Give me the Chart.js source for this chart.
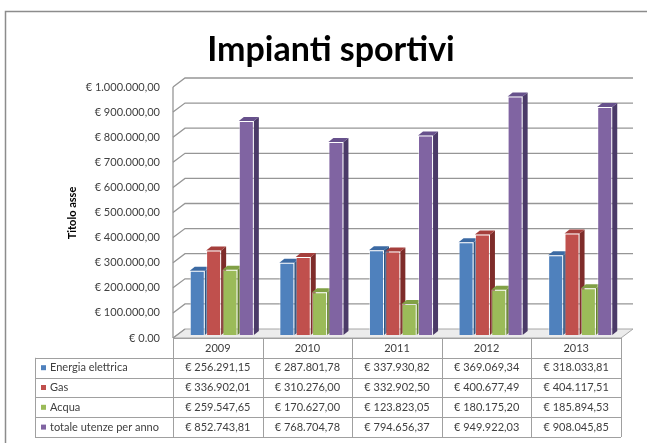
<!DOCTYPE html>
<html>
<head>
<meta charset="utf-8">
<script src="https://cdn.jsdelivr.net/npm/chart.js@4/dist/chart.umd.min.js"></script>
<style>
  body { margin: 0; background: #fff; }
</style>
</head>
<body>
<canvas id="myChart" width="647" height="443"></canvas>
<script>
// dati
var years = ["2009", "2010", "2011", "2012", "2013"];
var energia = [256291.15, 287801.78, 337930.82, 369069.34, 318033.81];
var gas = [336902.01, 310276.00, 332902.50, 400677.49, 404117.51];
var acqua = [259547.65, 170627.00, 123823.05, 180175.20, 185894.53];
var totale = [852743.81, 768704.78, 794656.37, 949922.03, 908045.85];
var seriesNames = ["Energia elettrica", "Gas", "Acqua", "totale utenze per anno"];
var tickValues = [0, 100000, 200000, 300000, 400000, 500000, 600000, 700000, 800000, 900000, 1000000];
var tickLabels = ["€ 0.00", "€ 100.000,00", "€ 200.000,00", "€ 300.000,00", "€ 400.000,00", "€ 500.000,00",
                  "€ 600.000,00", "€ 700.000,00", "€ 800.000,00", "€ 900.000,00", "€ 1.000.000,00"];

var fronts = ["#4F81BD", "#C0504D", "#9BBB59", "#8064A2"];
var sides = ["#2F5582", "#7E2C2A", "#66832F", "#4B3A68"];
var tops = ["#3C6AA3", "#A53F3C", "#81A046", "#67518C"];

function euro(n) {
  var parts = n.toFixed(2).split(".");
  var int = parts[0].replace(/\B(?=(\d{3})+(?!\d))/g, ".");
  return "€ " + int + "," + parts[1];
}

var FX = -4, FY = 3;   // piano frontale
var BX = 8, BY = -6;   // parete di fondo
var DX = 5, DY = -4;   // spessore barre

var deco = {
  id: "deco",
  beforeDatasetsDraw: function (chart) {
    var ctx = chart.ctx;
    var a = chart.chartArea;
    var y = chart.scales.y;
    ctx.save();
    // pavimento
    var y0 = y.getPixelForValue(0);
    ctx.beginPath();
    ctx.moveTo(a.left + FX, y0 + FY);
    ctx.lineTo(a.left + BX, y0 + BY);
    ctx.lineTo(a.right + BX, y0 + BY);
    ctx.lineTo(a.right + FX, y0 + FY);
    ctx.closePath();
    ctx.fillStyle = "#ececec";
    ctx.fill();
    ctx.strokeStyle = "#a6a6a6";
    ctx.lineWidth = 1;
    ctx.stroke();
    // griglia
    ctx.strokeStyle = "#969696";
    ctx.lineWidth = 1.3;
    tickValues.forEach(function (v) {
      var py = y.getPixelForValue(v);
      ctx.beginPath();
      ctx.moveTo(a.left + FX, py + FY);
      ctx.lineTo(a.left + BX, py + BY);
      if (v > 0) ctx.lineTo(a.right + BX, py + BY);
      ctx.stroke();
    });
    // asse verticale
    ctx.beginPath();
    ctx.moveTo(a.left + FX, y.getPixelForValue(1000000) + FY);
    ctx.lineTo(a.left + FX, y0 + FY);
    ctx.stroke();

    // facce laterali e superiori
    for (var j = 0; j < years.length; j++) {
      for (var i = 0; i < 4; i++) {
        var bar = chart.getDatasetMeta(i).data[j];
        var l = bar.x - bar.width / 2, r = bar.x + bar.width / 2;
        ctx.beginPath();
        ctx.moveTo(r, bar.y);
        ctx.lineTo(r + DX, bar.y + DY);
        ctx.lineTo(r + DX, bar.base + DY);
        ctx.lineTo(r, bar.base);
        ctx.closePath();
        ctx.fillStyle = sides[i];
        ctx.fill();
        ctx.beginPath();
        ctx.moveTo(l, bar.y);
        ctx.lineTo(l + DX, bar.y + DY);
        ctx.lineTo(r + DX, bar.y + DY);
        ctx.lineTo(r, bar.y);
        ctx.closePath();
        ctx.fillStyle = tops[i];
        ctx.fill();
      }
    }
    ctx.restore();
  },
  afterDraw: function (chart) {
    var ctx = chart.ctx;
    var a = chart.chartArea;
    var y = chart.scales.y;
    ctx.save();

    // cornice
    ctx.strokeStyle = "#8c8c8c";
    ctx.lineWidth = 1.5;
    ctx.beginPath();
    ctx.moveTo(5.5, 445);
    ctx.lineTo(5.5, 11.5);
    ctx.lineTo(650, 11.5);
    ctx.stroke();

    // titolo
    ctx.fillStyle = "#000";
    ctx.font = "bold 34px Lato";
    ctx.textAlign = "center";
    ctx.textBaseline = "alphabetic";
    ctx.fillText("Impianti sportivi", 331, 61);

    // etichette asse y
    ctx.fillStyle = "#404040";
    ctx.font = "11px Lato";
    ctx.textAlign = "right";
    ctx.textBaseline = "middle";
    tickValues.forEach(function (v, k) {
      ctx.fillText(tickLabels[k], 160, y.getPixelForValue(v) + FY);
    });

    // titolo asse
    ctx.save();
    ctx.translate(72, 213);
    ctx.rotate(-Math.PI / 2);
    ctx.textAlign = "center";
    ctx.font = "bold 11px Lato";
    ctx.fillStyle = "#000";
    ctx.fillText("Titolo asse", 0, 0);
    ctx.restore();

    // tabella dati
    var left = a.left + FX, right = a.right + FX;
    var colW = (right - left) / years.length;
    var top = y.getPixelForValue(0) + FY;
    var rowH = 19.8;
    var legL = 35;
    var rows = [energia, gas, acqua, totale];
    ctx.strokeStyle = "#a0a0a0";
    ctx.lineWidth = 1;
    ctx.beginPath();
    for (var r = 0; r <= 5; r++) {
      var ly = Math.round(top + r * rowH) + 0.5;
      ctx.moveTo(r === 0 ? left : legL, ly);
      ctx.lineTo(right, ly);
    }
    ctx.moveTo(legL + 0.5, top + rowH);
    ctx.lineTo(legL + 0.5, top + 5 * rowH);
    for (var c = 0; c <= years.length; c++) {
      var lx = Math.round(left + c * colW) + 0.5;
      ctx.moveTo(lx, top);
      ctx.lineTo(lx, top + 5 * rowH);
    }
    ctx.stroke();

    ctx.font = "11px Lato";
    ctx.fillStyle = "#404040";
    ctx.textAlign = "center";
    years.forEach(function (yr, c) {
      ctx.fillText(yr, left + (c + 0.5) * colW, top + rowH / 2 + 1);
    });
    rows.forEach(function (vals, r) {
      var cy = top + (r + 1.5) * rowH;
      ctx.fillStyle = fronts[r];
      ctx.fillRect(41, cy - 2.5, 5, 5);
      ctx.fillStyle = "#404040";
      ctx.textAlign = "left";
      ctx.fillText(seriesNames[r], 50, cy);
      ctx.textAlign = "center";
      vals.forEach(function (v, c) {
        ctx.fillText(euro(v), left + (c + 0.5) * colW, cy);
      });
    });
    ctx.restore();
  }
};

var allSeries = [energia, gas, acqua, totale];

new Chart("myChart", {
  type: "bar",
  data: {
    labels: years,
    datasets: allSeries.map(function (d, i) {
      return {
        label: seriesNames[i],
        data: d,
        backgroundColor: fronts[i],
        borderColor: "rgba(255,255,255,0.45)",
        borderWidth: 1,
        categoryPercentage: 0.73,
        barPercentage: 0.92
      };
    })
  },
  options: {
    responsive: false,
    animation: false,
    layout: { padding: { left: 177, right: 22, top: 84, bottom: 108 } },
    plugins: {
      legend: { display: false },
      title: { display: false },
      tooltip: { enabled: false }
    },
    scales: {
      x: { display: false },
      y: { display: false, min: 0, max: 1000000 }
    }
  },
  plugins: [deco]
});
</script>
</body>
</html>
